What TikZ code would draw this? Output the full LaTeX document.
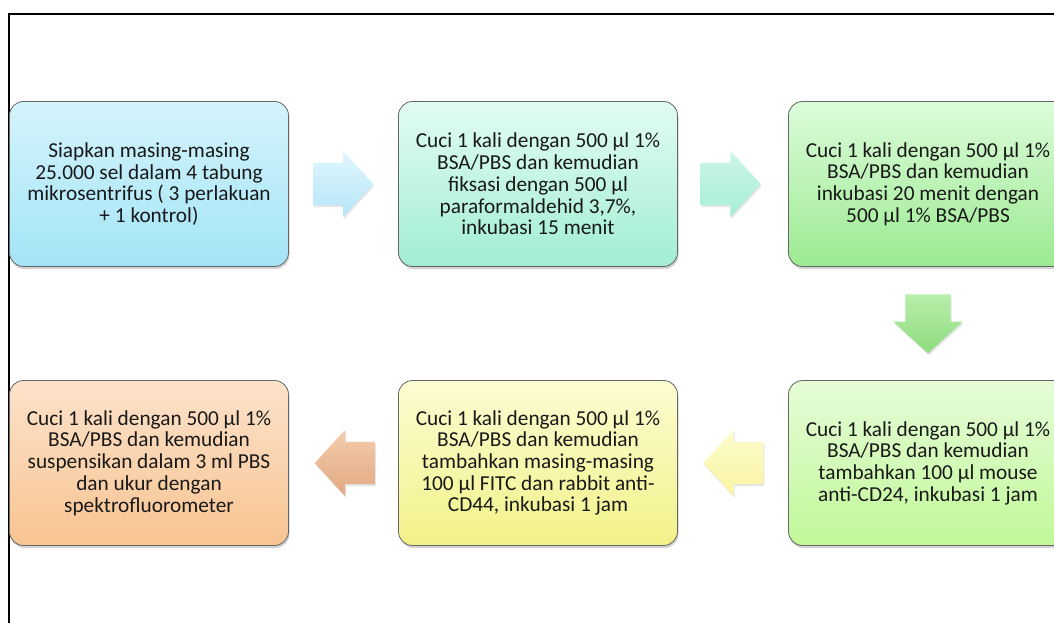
\documentclass[tikz,border=0pt]{standalone}
\usepackage{fontspec}
\setmainfont{Carlito}
\usetikzlibrary{shapes.arrows,shadows,calc}
\definecolor{bAtop}{HTML}{D4F4FC}\definecolor{bAbot}{HTML}{A4E4F6}
\definecolor{bBtop}{HTML}{E2FCF2}\definecolor{bBbot}{HTML}{A2EED2}
\definecolor{bCtop}{HTML}{DCFCDA}\definecolor{bCbot}{HTML}{9CEA92}
\definecolor{bDtop}{HTML}{E6FCD8}\definecolor{bDbot}{HTML}{C0F898}
\definecolor{bEtop}{HTML}{FCFCD2}\definecolor{bEbot}{HTML}{F2F28A}
\definecolor{bFtop}{HTML}{FCE2CA}\definecolor{bFbot}{HTML}{F8C492}
\definecolor{aAtop}{HTML}{E0F6FD}\definecolor{aAbot}{HTML}{B4E6F8}
\definecolor{aBtop}{HTML}{CCF6E8}\definecolor{aBbot}{HTML}{A6EED4}
\definecolor{aCtop}{HTML}{B8EEAA}\definecolor{aCbot}{HTML}{8EDC80}
\definecolor{aDtop}{HTML}{FCFCCC}\definecolor{aDbot}{HTML}{FAF4A2}
\definecolor{aEtop}{HTML}{F4CCAC}\definecolor{aEbot}{HTML}{E2A882}
\tikzset{
  stepbox/.style={rounded corners=14pt, draw=black!60, line width=0.8pt,
    minimum width=279pt, minimum height=165pt, inner sep=0pt, align=center,
    font=\fontsize{21.3}{21.7}\selectfont, text=black!90,
    drop shadow={shadow xshift=1pt, shadow yshift=-2.5pt, opacity=0.35}},
  blockarrow/.style={single arrow, single arrow head extend=12pt,
    single arrow tip angle=95, minimum height=60pt,
    inner xsep=0pt, inner ysep=21pt, draw=none,
    drop shadow={shadow xshift=1pt, shadow yshift=-2pt, opacity=0.2}},
}
\begin{document}
\begin{tikzpicture}[x=1pt,y=-1pt]
\useasboundingbox (0,0) rectangle (1054,623);
\fill[white] (0,0) rectangle (1054,623);
% frame
\coordinate (fbl) at (9,630);
\coordinate (ftl) at (9,14);
\coordinate (ftr) at (1060,14);
\draw[line width=1.6pt] (fbl) -- (ftl) -- (ftr);
% boxes
\node[stepbox, top color=bAtop, bottom color=bAbot] (b1) at (149,184)
  {Siapkan masing-masing\\25.000 sel dalam 4 tabung\\mikrosentrifus ( 3 perlakuan\\+ 1 kontrol)};
\node[stepbox, top color=bBtop, bottom color=bBbot] (b2) at (538,184)
  {Cuci 1 kali dengan 500 µl 1\%\\BSA/PBS dan kemudian\\fiksasi dengan 500 µl\\paraformaldehid 3,7\%,\\inkubasi 15 menit};
\node[stepbox, top color=bCtop, bottom color=bCbot] (b3) at (928,184)
  {Cuci 1 kali dengan 500 µl 1\%\\BSA/PBS dan kemudian\\inkubasi 20 menit dengan\\500 µl 1\% BSA/PBS};
\node[stepbox, top color=bDtop, bottom color=bDbot] (b6) at (928,463)
  {Cuci 1 kali dengan 500 µl 1\%\\BSA/PBS dan kemudian\\tambahkan 100 µl mouse\\anti-CD24, inkubasi 1 jam};
\node[stepbox, top color=bEtop, bottom color=bEbot] (b5) at (538,463)
  {Cuci 1 kali dengan 500 µl 1\%\\BSA/PBS dan kemudian\\tambahkan masing-masing\\100 µl FITC dan rabbit anti-\\CD44, inkubasi 1 jam};
\node[stepbox, top color=bFtop, bottom color=bFbot] (b4) at (149,463)
  {Cuci 1 kali dengan 500 µl 1\%\\BSA/PBS dan kemudian\\suspensikan dalam 3 ml PBS\\dan ukur dengan\\spektrofluorometer};
% block arrows
\node[blockarrow, xshift=-10pt, top color=aAtop, bottom color=aAbot] (a1)
  at ($(b1.east)!0.5!(b2.west)$) {};
\node[blockarrow, xshift=-12pt, top color=aBtop, bottom color=aBbot] (a2)
  at ($(b2.east)!0.5!(b3.west)$) {};
\node[blockarrow, shape border rotate=270, minimum height=59pt,
  inner xsep=22.5pt, inner ysep=0pt, yshift=10pt,
  top color=aCtop, bottom color=aCbot] (a3)
  at ($(b3.south)!0.5!(b6.north)$) {};
\node[blockarrow, shape border rotate=180, xshift=10pt, top color=aDtop, bottom color=aDbot] (a4)
  at ($(b6.west)!0.5!(b5.east)$) {};
\node[blockarrow, shape border rotate=180, xshift=11pt, top color=aEtop, bottom color=aEbot] (a5)
  at ($(b5.west)!0.5!(b4.east)$) {};
\end{tikzpicture}
\end{document}
